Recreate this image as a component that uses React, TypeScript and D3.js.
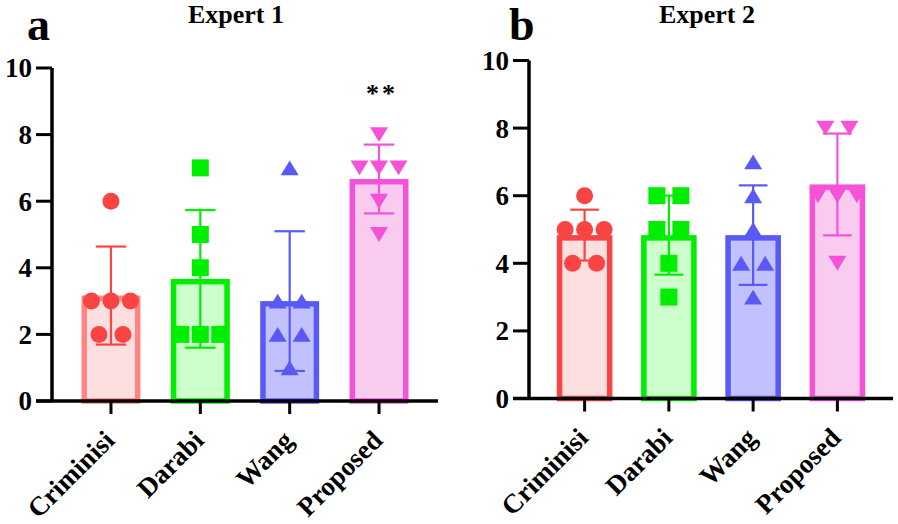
import React from 'react'
import * as d3 from 'd3'

// methods on the x axis
const categories = ['Criminisi', 'Darabi', 'Wang', 'Proposed']

// individual scores, Expert 1
const expert1Criminisi = [6, 3, 3, 3, 2, 2]
const expert1Darabi = [7, 5, 4, 2, 2, 2]
const expert1Wang = [7, 3, 3, 2, 2, 1]
const expert1Proposed = [8, 7, 7, 7, 6, 5]

// individual scores, Expert 2
const expert2Criminisi = [6, 5, 5, 5, 4, 4]
const expert2Darabi = [6, 6, 5, 5, 4, 3]
const expert2Wang = [7, 6, 5, 4, 4, 3]
const expert2Proposed = [8, 8, 6, 6, 6, 4]

const yTicks = [0, 2, 4, 6, 8, 10]
const panelTitles = ['Expert 1', 'Expert 2']
const panelLetters = ['a', 'b']
const significanceA = ['', '', '', '**']
const significanceB = ['', '', '', '']

const markerColors = ['#F94444', '#00EE00', '#5959F5', '#F552D8']
const fillColors = ['#FDDFDF', '#CCFFCC', '#C1C1FF', '#F9CBEE']
const strokeA = ['#FF8585', '#00EE00', '#5959F5', '#F552D8']
const strokeB = ['#F94444', '#00EE00', '#5959F5', '#F552D8']

const font = '"Liberation Serif", "Times New Roman", serif'

const triUp = {
  draw(ctx, size) {
    const w = Math.sqrt(size)
    const h = w * 0.83
    ctx.moveTo(0, -h / 2)
    ctx.lineTo(w / 2, h / 2)
    ctx.lineTo(-w / 2, h / 2)
    ctx.closePath()
  },
}
const triDown = {
  draw(ctx, size) {
    const w = Math.sqrt(size)
    const h = w * 0.83
    ctx.moveTo(0, h / 2)
    ctx.lineTo(w / 2, -h / 2)
    ctx.lineTo(-w / 2, -h / 2)
    ctx.closePath()
  },
}

const shapes = [
  d3.symbol().type(d3.symbolCircle).size(Math.PI * 8.5 * 8.5)(),
  d3.symbol().type(d3.symbolSquare).size(17 * 17)(),
  d3.symbol().type(triUp).size(18 * 18)(),
  d3.symbol().type(triDown).size(18 * 18)(),
]

function jitter(values) {
  // spread points sharing the same value side by side
  const counts = d3.rollup(values, (v) => v.length, (d) => d)
  const seen = new Map()
  return values.map((v) => {
    const n = counts.get(v)
    const k = seen.get(v) || 0
    seen.set(v, k + 1)
    const gap = n === 2 ? 24 : 19.5
    return (k - (n - 1) / 2) * gap
  })
}

function Panel({ layout, groups, strokes, title, letter, stars }) {
  const { left, right, top, bottom, axisStart, titleX, letterX } = layout
  const x = d3.scalePoint().domain(categories).range([left, right]).padding(0.66)
  const y = d3.scaleLinear().domain([0, 10]).range([bottom, top])
  const step = x.step()
  const barW = step * 0.66
  const sw = 5.5
  const capW = step * 0.34

  return (
    <g>
      <text x={letterX} y={40} fontFamily={font} fontWeight="bold" fontSize={46}>
        {letter}
      </text>
      <text x={titleX} y={23} textAnchor="middle" fontFamily={font} fontWeight="bold" fontSize={26}>
        {title}
      </text>

      {groups.map((vals, i) => {
        const cx = x(categories[i])
        const m = d3.mean(vals)
        const sd = d3.deviation(vals)
        const offs = jitter(vals)
        return (
          <g key={categories[i]}>
            <rect
              x={cx - barW / 2 + sw / 2}
              y={y(m) + sw / 2}
              width={barW - sw}
              height={bottom - y(m) - sw / 2}
              fill={fillColors[i]}
              stroke={strokes[i]}
              strokeWidth={sw}
            />
            <g stroke={markerColors[i]} strokeWidth={2.2}>
              <line x1={cx} x2={cx} y1={y(m + sd)} y2={y(m - sd)} />
              <line x1={cx - capW / 2} x2={cx + capW / 2} y1={y(m + sd)} y2={y(m + sd)} />
              <line x1={cx - capW / 2} x2={cx + capW / 2} y1={y(m - sd)} y2={y(m - sd)} />
            </g>
            {vals.map((v, j) => (
              <path key={j} d={shapes[i]} transform={`translate(${cx + offs[j]},${y(v)})`} fill={markerColors[i]} />
            ))}
            {stars[i] && (
              <text
                x={cx + 3}
                y={y(Math.max(...vals)) - 33}
                textAnchor="middle"
                fontFamily={font}
                fontWeight="bold"
                fontSize={26}
                letterSpacing={3}
              >
                {stars[i]}
              </text>
            )}
          </g>
        )
      })}

      {/* axes */}
      <line x1={left} x2={left} y1={top} y2={bottom} stroke="#000" strokeWidth={3.5} />
      <line x1={axisStart} x2={right} y1={bottom} y2={bottom} stroke="#000" strokeWidth={3.5} />
      {yTicks.map((t) => (
        <g key={t}>
          <line x1={axisStart} x2={left} y1={y(t)} y2={y(t)} stroke="#000" strokeWidth={3} />
          <text
            x={left - 20}
            y={y(t)}
            dy="0.35em"
            textAnchor="end"
            fontFamily={font}
            fontWeight="bold"
            fontSize={27}
          >
            {t}
          </text>
        </g>
      ))}
      {categories.map((c) => (
        <g key={c}>
          <line x1={x(c)} x2={x(c)} y1={bottom} y2={bottom + 13} stroke="#000" strokeWidth={3} />
          <text
            transform={`translate(${x(c) + 5},${bottom + 41}) rotate(-45)`}
            textAnchor="end"
            fontFamily={font}
            fontWeight="bold"
            fontSize={27}
          >
            {c}
          </text>
        </g>
      ))}
    </g>
  )
}

export default function App() {
  const layoutA = { left: 52, right: 438, top: 68, bottom: 401, axisStart: 36, titleX: 236, letterX: 27 }
  const layoutB = { left: 529, right: 893, top: 60.5, bottom: 398.5, axisStart: 513, titleX: 707, letterX: 509 }
  return (
    <svg width={898} height={524} style={{ position: 'absolute', left: 0, top: 0, background: '#fff' }}>
      <Panel
        layout={layoutA}
        groups={[expert1Criminisi, expert1Darabi, expert1Wang, expert1Proposed]}
        strokes={strokeA}
        title={panelTitles[0]}
        letter={panelLetters[0]}
        stars={significanceA}
      />
      <Panel
        layout={layoutB}
        groups={[expert2Criminisi, expert2Darabi, expert2Wang, expert2Proposed]}
        strokes={strokeB}
        title={panelTitles[1]}
        letter={panelLetters[1]}
        stars={significanceB}
      />
    </svg>
  )
}
